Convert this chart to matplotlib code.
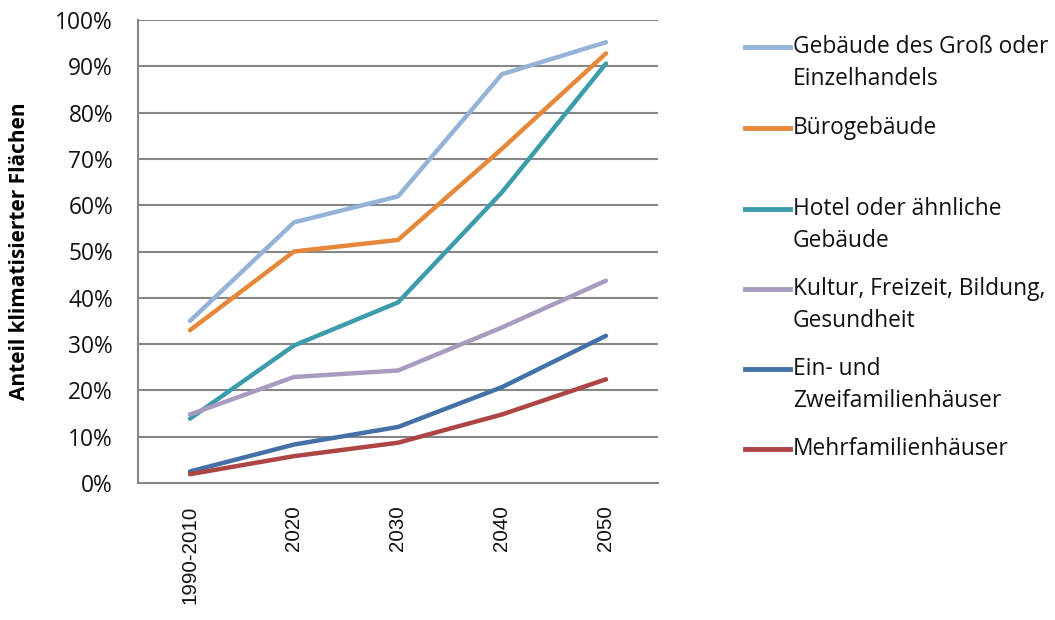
import matplotlib
matplotlib.use("Agg")
import matplotlib.pyplot as plt
from matplotlib.lines import Line2D
from matplotlib.ticker import PercentFormatter

years = ["1990-2010", "2020", "2030", "2040", "2050"]

gross = [35.0, 56.3, 61.9, 88.3, 95.2]
buero = [33.0, 50.0, 52.5, 72.2, 92.8]
hotel = [13.9, 29.7, 39.0, 62.8, 90.6]
kultur = [14.8, 22.9, 24.3, 33.6, 43.7]
efh = [2.5, 8.3, 12.1, 20.7, 31.8]
mfh = [1.9, 5.8, 8.7, 14.8, 22.4]

labels = [
    ["Gebäude des Groß oder", "Einzelhandels"],
    ["Bürogebäude"],
    ["Hotel oder ähnliche", "Gebäude"],
    ["Kultur, Freizeit, Bildung,", "Gesundheit"],
    ["Ein- und", "Zweifamilienhäuser"],
    ["Mehrfamilienhäuser"],
]
colors = ["#95B3D7", "#E6883A", "#3D9CAC", "#A99BC0", "#4470A8", "#AC4543"]
series = [gross, buero, hotel, kultur, efh, mfh]

plt.rcParams["font.family"] = ["Open Sans", "DejaVu Sans"]

fig = plt.figure(figsize=(10.55, 6.2), dpi=100)
ax = fig.add_axes([138 / 1055, 1 - 483 / 620, 520 / 1055, 463 / 620])

x = range(len(years))
for vals, c in zip(series, colors):
    ax.plot(x, vals, color=c, linewidth=3.2, solid_capstyle="round", zorder=3)

ax.set_xlim(-0.5, len(years) - 0.5)
ax.set_ylim(0, 100)
ax.set_yticks(range(0, 101, 10))
ax.yaxis.set_major_formatter(PercentFormatter(decimals=0))
ax.set_xticks(list(x))
ax.set_xticklabels(years, rotation=90, family="Liberation Sans", fontsize=14.8)
ax.tick_params(axis="y", length=0, pad=18, labelsize=16.4, labelcolor="#111111")
ax.tick_params(axis="x", length=0, pad=16, labelcolor="#111111")

ax.grid(axis="y", color="#868686", linewidth=1.5)
ax.set_axisbelow(True)
for s in ["top", "right"]:
    ax.spines[s].set_visible(False)
for s in ["left", "bottom"]:
    ax.spines[s].set_color("#868686")
    ax.spines[s].set_linewidth(1.5)

ax.set_ylabel("Anteil klimatisierter Flächen", fontsize=15, fontweight="bold")
ax.yaxis.set_label_coords(-0.208, 0.5)

# legend drawn by hand: handle next to the first text line
entry_y = [47, 128, 209, 289, 369, 449]
for lab, c, y in zip(labels, colors, entry_y):
    yf = 1 - y / 620
    fig.add_artist(Line2D([745 / 1055, 790 / 1055], [yf, yf], color=c,
                          linewidth=3.5, transform=fig.transFigure))
    for k, line in enumerate(lab):
        fig.text(793 / 1055, 1 - (y + 32 * k) / 620, line, fontsize=16.4,
                 va="center", ha="left", color="#111111")

fig.savefig("out.png", dpi=100)
